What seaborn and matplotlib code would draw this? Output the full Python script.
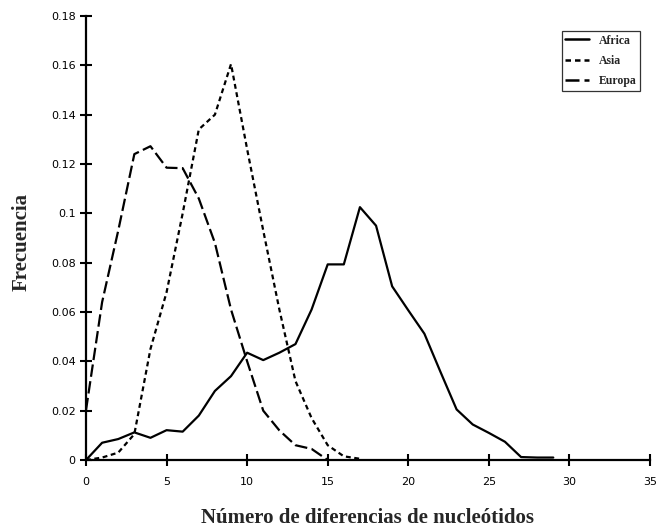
import matplotlib
matplotlib.use("Agg")
import matplotlib.pyplot as plt
import seaborn as sns
import pandas as pd

# frequency of pairwise nucleotide differences
africa = [0, 0.007, 0.0085, 0.0112, 0.009, 0.0121, 0.0115, 0.018, 0.028, 0.034,
          0.0435, 0.0405, 0.0435, 0.047, 0.061, 0.0793, 0.0793, 0.1025, 0.095, 0.0704,
          0.0607, 0.0512, 0.0357, 0.0205, 0.0144, 0.011, 0.0074, 0.0012, 0.001, 0.001]
asia = [0, 0.001, 0.003, 0.0105, 0.045, 0.068, 0.10, 0.134, 0.14, 0.1605,
        0.126, 0.093, 0.061, 0.032, 0.017, 0.006, 0.0015, 0.0005]
europa = [0.0202, 0.064, 0.093, 0.124, 0.1272, 0.1185, 0.1183, 0.106, 0.088, 0.061,
          0.04, 0.02, 0.012, 0.006, 0.0045, 0.0]

regions = ["Africa", "Asia", "Europa"]
x_ticks = [0, 5, 10, 15, 20, 25, 30, 35]
y_ticks = [0, 0.02, 0.04, 0.06, 0.08, 0.1, 0.12, 0.14, 0.16, 0.18]
y_labels = ["0", "0.02", "0.04", "0.06", "0.08", "0.1", "0.12", "0.14", "0.16", "0.18"]

frames = []
for name, vals in zip(regions, [africa, asia, europa]):
    frames.append(pd.DataFrame({"dif": range(len(vals)), "freq": vals, "region": name}))
df = pd.concat(frames, ignore_index=True)

sns.set_style("ticks")
plt.rcParams["font.family"] = ["DejaVu Sans"]

fig = plt.figure(figsize=(6.57, 5.29), dpi=100)
ax = fig.add_axes([0.1309, 0.1304, 0.8584, 0.8394])

dashes = {"Africa": "", "Asia": (2.2, 1.6), "Europa": (5.6, 2.0)}
sns.lineplot(data=df, x="dif", y="freq", hue="region", style="region",
             palette=["black"] * 3, dashes=dashes, linewidth=1.6, ax=ax,
             legend=True)

ax.set_xlim(0, 35)
ax.set_ylim(0, 0.18)
ax.set_xticks(x_ticks)
ax.set_yticks(y_ticks)
ax.set_yticklabels(y_labels)
ax.tick_params(direction="inout", length=9, width=1.5, labelsize=8, colors="black")
ax.tick_params(axis="x", pad=8)
ax.tick_params(axis="y", pad=3)
for side in ["left", "bottom"]:
    ax.spines[side].set_linewidth(1.6)
    ax.spines[side].set_color("black")
sns.despine(ax=ax)

serif = ["Liberation Serif", "DejaVu Serif"]
ax.set_xlabel("Número de diferencias de nucleótidos", family=serif,
              fontweight="bold", fontsize=15)
ax.xaxis.set_label_coords(0.5, -0.108)
ax.set_ylabel("Frecuencia", family=serif, fontweight="bold", fontsize=15)
ax.yaxis.set_label_coords(-0.096, 0.49)

leg = ax.legend(loc="upper right", bbox_to_anchor=(0.982, 0.966), frameon=True,
                fancybox=False, edgecolor="black", handlelength=2.0,
                handletextpad=0.8, borderpad=0.3, borderaxespad=0,
                labelspacing=0.7,
                prop={"family": serif, "weight": "bold", "size": 8.5})
leg.get_frame().set_linewidth(0.9)
for h in leg.get_lines():
    h.set_linewidth(1.8)

fig.savefig("out.png", dpi=100)
